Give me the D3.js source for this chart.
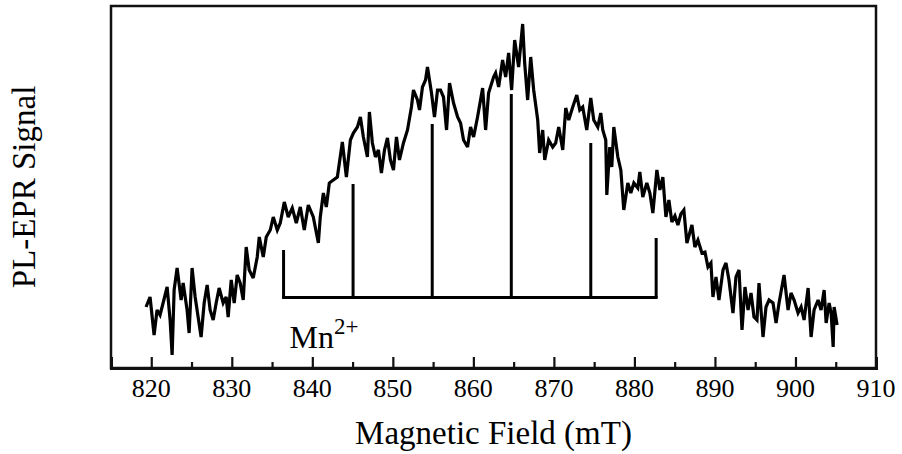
<!DOCTYPE html>
<html>
<head>
<meta charset="utf-8">
<script src="https://cdn.jsdelivr.net/npm/d3@7/dist/d3.min.js"></script>
<style>
  html, body { margin: 0; padding: 0; background: #fff; }
  svg { display: block; }
  svg text { font-family: "Liberation Serif", "Times New Roman", serif; fill: #000; }
</style>
</head>
<body>
<svg id="chart" width="902" height="454"></svg>
<script>
// ---- data ----
const fieldMT = [819.35,819.85,820.35,820.72,821.09,821.47,821.97,822.34,822.59,822.84,823.21,823.71,823.96,824.45,824.70,825.07,825.45,825.82,826.19,826.57,826.94,827.31,827.69,828.06,828.43,828.93,829.30,829.55,829.93,830.30,830.67,831.04,831.42,831.79,832.16,832.66,833.16,833.41,833.91,834.28,834.78,835.15,835.65,836.02,836.52,837.01,837.51,838.01,838.51,839.00,839.50,840.12,840.75,840.99,841.37,841.74,842.11,842.61,843.11,843.73,844.23,844.73,845.10,845.60,845.97,846.34,846.84,847.09,847.46,847.84,848.21,848.58,848.96,849.33,849.70,850.08,850.45,850.82,851.32,851.82,852.31,852.56,853.06,853.31,853.68,854.06,854.30,854.80,855.17,855.55,855.92,856.29,856.67,857.04,857.54,858.04,858.41,858.78,859.28,859.65,860.03,860.52,861.15,861.52,861.89,862.51,862.76,863.14,863.63,864.01,864.38,864.75,865.13,865.62,866.12,866.37,866.74,867.12,867.49,867.99,868.23,868.61,868.86,869.35,869.85,870.22,870.60,871.10,871.47,871.84,872.34,872.84,873.21,873.58,874.08,874.58,874.95,875.45,875.82,876.07,876.44,876.57,876.94,877.19,877.44,877.94,878.31,878.68,879.18,879.55,879.93,880.42,880.67,881.04,881.54,881.92,882.29,882.79,883.16,883.53,883.91,884.28,884.65,885.03,885.40,885.77,886.14,886.52,887.14,887.51,887.89,888.38,888.76,889.13,889.50,889.75,890.13,890.50,891.00,891.37,891.74,892.24,892.61,892.99,893.36,893.73,894.11,894.48,894.85,895.22,895.47,895.97,896.34,896.72,897.21,897.59,897.96,898.58,899.08,899.45,899.83,900.32,900.70,901.07,901.57,901.94,902.31,902.81,903.18,903.56,903.81,904.18,904.43,904.68,904.80,905.17];
const signal = [61,71,33,58,53,65,81,48,13,78,100,68,85,58,35,100,71,51,31,65,83,58,48,65,80,65,71,51,88,65,93,85,68,121,98,90,111,131,111,131,138,151,138,145,166,151,160,145,161,138,163,151,125,151,175,161,185,188,191,226,191,228,235,241,251,231,211,256,225,211,218,195,218,230,208,198,231,208,225,238,261,278,268,258,281,288,301,275,251,278,278,271,238,285,265,251,245,228,221,241,231,251,280,238,275,291,295,281,308,291,315,278,328,301,344,305,268,311,278,248,215,238,208,228,221,225,241,218,260,248,261,273,258,261,238,270,248,241,255,238,228,173,221,201,241,211,198,158,185,175,185,180,196,171,185,175,155,198,178,191,151,168,146,152,143,154,158,125,143,121,128,115,116,101,105,71,91,68,98,105,88,55,91,98,38,81,58,75,51,48,85,31,61,68,65,45,65,93,58,75,68,55,61,48,80,31,58,68,58,78,45,65,55,21,61,43];

// Mn2+ hyperfine stick pattern
const mnField  = [836.43, 845.06, 854.89, 864.71, 874.58, 882.70];
const mnHeight = [118, 184, 244, 274, 225, 130];
const mnBase   = 70.5;
const mnLabel  = "Mn";
const mnCharge = "2+";

// axis
const xTicks = [820, 830, 840, 850, 860, 870, 880, 890, 900, 910];
const xMinorTicks = [825, 835, 845, 855, 865, 875, 885, 895, 905];
const xDomain = [815, 910];
const yDomain = [0, 362];
const xTitle = "Magnetic Field (mT)";
const yTitle = "PL-EPR Signal";

// ---- layout ----
const L = 111, R = 876, T = 6, B = 368;
const SERIF = '"Liberation Serif", "Times New Roman", serif';
const svg = d3.select("#chart");
const x = d3.scaleLinear().domain(xDomain).range([L, R]);
const y = d3.scaleLinear().domain(yDomain).range([B, T]);

// spectrum line
const pts = fieldMT.map((f, i) => [f, signal[i]]);
svg.append("path")
  .datum(pts)
  .attr("fill", "none")
  .attr("stroke", "#000")
  .attr("stroke-width", 3.2)
  .attr("stroke-linejoin", "miter")
  .attr("stroke-miterlimit", 3)
  .attr("d", d3.line().x(d => x(d[0])).y(d => y(d[1])));

// stick pattern
const g = svg.append("g").attr("stroke", "#000").attr("stroke-width", 3).attr("fill", "none");
g.append("line")
  .attr("x1", x(mnField[0]) - 1.5).attr("x2", x(mnField[mnField.length - 1]) + 1.5)
  .attr("y1", y(mnBase)).attr("y2", y(mnBase));
g.selectAll("line.stick").data(mnField).enter().append("line")
  .attr("class", "stick")
  .attr("x1", d => x(d)).attr("x2", d => x(d))
  .attr("y1", y(mnBase)).attr("y2", (d, i) => y(mnHeight[i]));

const lbl = svg.append("text")
  .attr("x", x(mnField[0]) + 6)
  .attr("y", 348)
  .style("font-family", SERIF)
  .attr("font-size", 32);
lbl.append("tspan").text(mnLabel);
lbl.append("tspan").attr("dy", -14).attr("font-size", 23).text(mnCharge);

// frame
svg.append("rect")
  .attr("x", L).attr("y", T).attr("width", R - L).attr("height", B - T)
  .attr("fill", "none").attr("stroke", "#111").attr("stroke-width", 2.5);

// x axis (inward ticks, labels drawn separately)
const ax = svg.append("g").attr("transform", `translate(0,${B})`)
  .call(d3.axisBottom(x).tickValues(xTicks).tickSize(-11).tickFormat(""));
ax.select(".domain").attr("stroke", "#111").attr("stroke-width", 3);
ax.selectAll(".tick line").attr("stroke", "#111").attr("stroke-width", 2.2);
const axm = svg.append("g").attr("transform", `translate(0,${B})`)
  .call(d3.axisBottom(x).tickValues(xMinorTicks).tickSize(-6).tickFormat(""));
axm.select(".domain").remove();
axm.selectAll(".tick line").attr("stroke", "#111").attr("stroke-width", 2.2);

svg.append("g").selectAll("text.tl").data(xTicks).enter().append("text")
  .attr("class", "tl")
  .attr("x", d => x(d)).attr("y", 397)
  .attr("text-anchor", "middle")
  .attr("font-size", 26)
  .style("font-family", SERIF)
  .text(d => d3.format("d")(d));

// titles
svg.append("text")
  .attr("x", (L + R) / 2).attr("y", 444)
  .attr("text-anchor", "middle").attr("font-size", 33)
  .style("font-family", SERIF)
  .text(xTitle);
svg.append("text")
  .attr("transform", `translate(35,${(T + B) / 2}) rotate(-90)`)
  .attr("text-anchor", "middle").attr("font-size", 33)
  .style("font-family", SERIF)
  .text(yTitle);
</script>
</body>
</html>
